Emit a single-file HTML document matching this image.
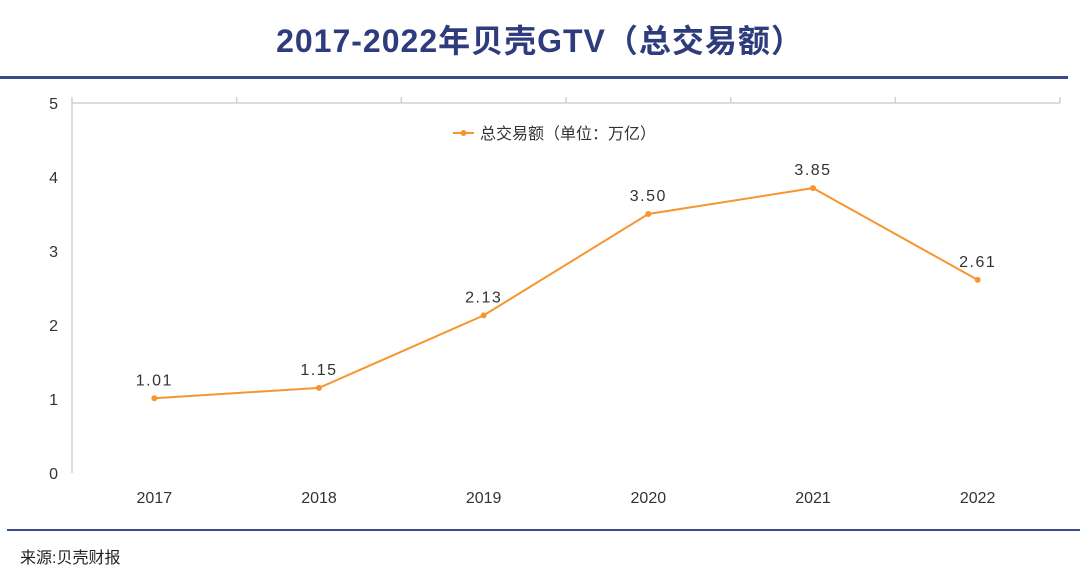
<!DOCTYPE html>
<html><head><meta charset="utf-8"><style>
body{margin:0;background:#fff;width:1080px;height:581px;overflow:hidden;font-family:"Liberation Sans","Noto Sans CJK SC",sans-serif}
</style></head><body>
<svg width="1080" height="581" xmlns="http://www.w3.org/2000/svg">
<text x="540" y="52" text-anchor="middle" font-size="32" font-weight="bold" fill="#2e3b7c" letter-spacing="1" font-family="'Liberation Sans','Noto Sans CJK SC',sans-serif">2017-2022年贝壳GTV（总交易额）</text>
<rect x="0" y="76" width="1068" height="3" fill="#3a4a8c"/>
<rect x="7" y="529" width="1073" height="2" fill="#3a4a8c"/>
<text x="20" y="563" font-size="16" fill="#222">来源:贝壳财报</text>
<g id="axes"></g>
<g id="marks"></g>
</svg>
<script>
const categories=["2017","2018","2019","2020","2021","2022"];
const values=[1.01,1.15,2.13,3.50,3.85,2.61];
const valueLabels=["1.01","1.15","2.13","3.50","3.85","2.61"];
const yTicks=[0,1,2,3,4,5];
const NS="http://www.w3.org/2000/svg";
const x0=72,x1=1060,yTop=103,yBot=473,yMax=5;
const step=(x1-x0)/categories.length;
function xs(i){return x0+step*(i+0.5);}
function ys(v){return yBot-(v/yMax)*(yBot-yTop);}
function mk(tag,attrs,parent){const e=document.createElementNS(NS,tag);for(const k in attrs)e.setAttribute(k,attrs[k]);parent.appendChild(e);return e;}
const ax=document.getElementById('axes'),mg=document.getElementById('marks');
let l=mk('line',{x1:x0,y1:yTop,x2:x0,y2:yBot,stroke:'#d0d0d0','stroke-width':1.5},ax);


l=mk('line',{x1:x0,y1:yTop,x2:x1,y2:yTop,stroke:'#d0d0d0','stroke-width':1.5},ax);


for(let i=0;i<=categories.length;i++){
 const t=mk('line',{x1:x0+step*i,y1:yTop-6,x2:x0+step*i,y2:yTop,stroke:'#d0d0d0','stroke-width':1.5},ax);
 
 
}
yTicks.forEach(v=>{
 const t=mk('text',{x:58,y:ys(v)+6,'text-anchor':'end','font-size':16,fill:'#333'},ax);t.textContent=v;
 
 
});
categories.forEach((c,i)=>{
 const t=mk('text',{x:xs(i),y:503,'text-anchor':'middle','font-size':16,fill:'#333'},ax);t.textContent=c;
 
 
});
const pts=values.map((v,i)=>xs(i)+','+ys(v)).join(' ');
const pl=mk('polyline',{points:pts,fill:'none',stroke:'#f7962f','stroke-width':2},mg);


values.forEach((v,i)=>{
 const c=mk('circle',{cx:xs(i),cy:ys(v),r:3,fill:'#f7962f'},mg);
 
 
 const t=mk('text',{x:xs(i),y:ys(v)-13,'text-anchor':'middle','font-size':16,fill:'#333','letter-spacing':'1.5'},mg);t.textContent=valueLabels[i];
 
 
});
const lg=mk('g',{},mg);


mk('line',{x1:453,y1:133,x2:474,y2:133,stroke:'#f7962f','stroke-width':2},lg);
mk('circle',{cx:463.5,cy:133,r:3,fill:'#f7962f'},lg);
const lt=mk('text',{x:480,y:139,'font-size':16,fill:'#333'},lg);lt.textContent='总交易额（单位：万亿）';
</script>
</body></html>
